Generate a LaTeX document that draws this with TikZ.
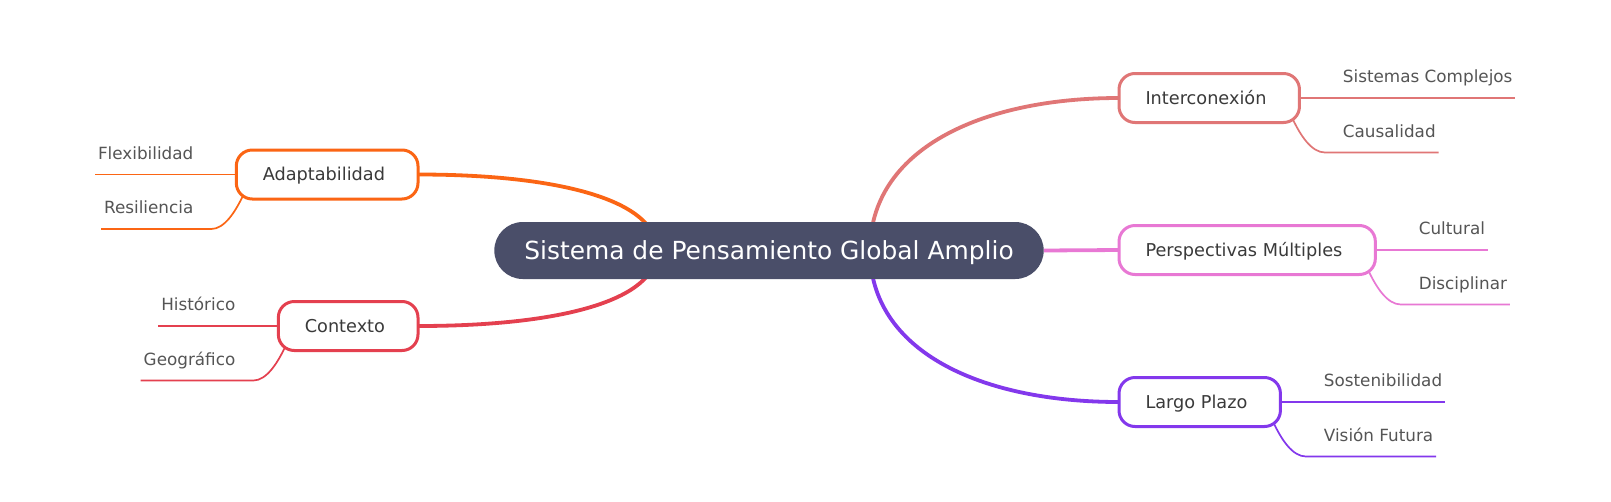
\documentclass[tikz,border=0pt]{standalone}
\usepackage{fontspec}
\setmainfont{DejaVu Sans}
\usetikzlibrary{calc,backgrounds}
\definecolor{rootc}{HTML}{4A4E69}
\definecolor{cInt}{HTML}{E07676}
\definecolor{cPer}{HTML}{E878D4}
\definecolor{cLar}{HTML}{8338EC}
\definecolor{cAda}{HTML}{FB6514}
\definecolor{cCon}{HTML}{E4404F}
\definecolor{txtc}{HTML}{3A3A3A}
\definecolor{leaftxt}{HTML}{555555}
\begin{document}
\begin{tikzpicture}[x=1pt,y=-1pt,
  rootbox/.style={fill=rootc, text=white, rounded corners=28.5pt, minimum height=57pt,
    inner xsep=30pt, inner ysep=0pt, outer sep=0pt, text height=20.3pt, text depth=2.1pt,
    font=\fontsize{24.9}{30}\selectfont},
  childbox/.style={draw=#1, line width=3pt, fill=white, text=txtc, rounded corners=16pt,
    minimum height=49pt, inner xsep=26.5pt, inner ysep=0pt, outer sep=0pt,
    text height=15pt, text depth=2.1pt, font=\fontsize{17.7}{21}\selectfont},
  leaf/.style={text=leaftxt, inner sep=0pt, outer sep=0pt, font=\fontsize{16.8}{20}\selectfont},
  mainlink/.style={draw=#1, line width=3.8pt},
  leaflink/.style={draw=#1, line width=1.7pt},
]
\useasboundingbox (0,0) rectangle (1611,501);

% root
\node[rootbox] (root) at (769,250.5) {Sistema de Pensamiento Global Amplio};
\coordinate (rR) at (870,250.5);
\coordinate (rL) at (657,250.5);

% children
\node[childbox=cInt, anchor=west] (int) at (1119,98) {Interconexión\hspace*{6.5pt}};
\node[childbox=cPer, anchor=west] (per) at (1119,250) {Perspectivas Múltiples\hspace*{6.5pt}};
\node[childbox=cLar, anchor=west] (lar) at (1119,402) {Largo Plazo\hspace*{6.5pt}};
\node[childbox=cAda, anchor=east] (ada) at (418,174.5) {Adaptabilidad\hspace*{6.5pt}};
\node[childbox=cCon, anchor=east] (con) at (418,326) {Contexto\hspace*{6.5pt}};

% leaves right
\node[leaf, anchor=base west] (int1) at ($(int.east)+(43.5,-15.3)$) {Sistemas Complejos};
\node[leaf, anchor=base west] (int2) at ($(int.east)+(43.5,39.2)$) {Causalidad};
\node[leaf, anchor=base west] (per1) at ($(per.east)+(43.5,-15.3)$) {Cultural};
\node[leaf, anchor=base west] (per2) at ($(per.east)+(43.5,39.2)$) {Disciplinar};
\node[leaf, anchor=base west] (lar1) at ($(lar.east)+(43.5,-15.3)$) {Sostenibilidad};
\node[leaf, anchor=base west] (lar2) at ($(lar.east)+(43.5,39.2)$) {Visión Futura};
% leaves left
\node[leaf, anchor=base east] (ada1) at ($(ada.west)+(-43,-15.3)$) {Flexibilidad};
\node[leaf, anchor=base east] (ada2) at ($(ada.west)+(-43,39.2)$) {Resiliencia};
\node[leaf, anchor=base east] (con1) at ($(con.west)+(-43,-15.3)$) {Histórico};
\node[leaf, anchor=base east] (con2) at ($(con.west)+(-43,39.2)$) {Geográfico};

\coordinate (intb) at ($(int.east)+(0,54.5)$);
\coordinate (perb) at ($(per.east)+(0,54.5)$);
\coordinate (larb) at ($(lar.east)+(0,54.5)$);
\coordinate (adab) at ($(ada.west)+(0,54.5)$);
\coordinate (conb) at ($(con.west)+(0,54.5)$);

\begin{pgfonlayer}{background}
\fill[white] (0,0) rectangle (1611,501);
% main links
\draw[mainlink=cInt] (rR) .. controls (870,150) and (980,98) .. (int.west);
\draw[mainlink=cPer] (root.east) -- (per.west);
\draw[mainlink=cLar] (rR) .. controls (870,351) and (980,402) .. (lar.west);
\draw[mainlink=cAda] (rL) .. controls (657,200.3) and (560,174.5) .. (ada.east);
\draw[mainlink=cCon] (rL) .. controls (657,300.7) and (560,326) .. (con.east);

% leaf links right
\draw[leaflink=cInt] (int.east) -- ($(int.east -| int1.east)+(3,0)$);
\draw[leaflink=cInt] ($(int.east)+(-7,20.5)$) .. controls ($(int.east)+(1,37.5)$) and ($(int.east)+(12,54.5)$) .. ($(int.east)+(25.5,54.5)$) -- ($(intb -| int2.east)+(3,0)$);
\draw[leaflink=cPer] (per.east) -- ($(per.east -| per1.east)+(3,0)$);
\draw[leaflink=cPer] ($(per.east)+(-7,20.5)$) .. controls ($(per.east)+(1,37.5)$) and ($(per.east)+(12,54.5)$) .. ($(per.east)+(25.5,54.5)$) -- ($(perb -| per2.east)+(3,0)$);
\draw[leaflink=cLar] (lar.east) -- ($(lar.east -| lar1.east)+(3,0)$);
\draw[leaflink=cLar] ($(lar.east)+(-7,20.5)$) .. controls ($(lar.east)+(1,37.5)$) and ($(lar.east)+(12,54.5)$) .. ($(lar.east)+(25.5,54.5)$) -- ($(larb -| lar2.east)+(3,0)$);
% leaf links left
\draw[leaflink=cAda] (ada.west) -- ($(ada.west -| ada1.west)+(-3,0)$);
\draw[leaflink=cAda] ($(ada.west)+(7,20.5)$) .. controls ($(ada.west)+(-1,37.5)$) and ($(ada.west)+(-12,54.5)$) .. ($(ada.west)+(-25,54.5)$) -- ($(adab -| ada2.west)+(-3,0)$);
\draw[leaflink=cCon] (con.west) -- ($(con.west -| con1.west)+(-3,0)$);
\draw[leaflink=cCon] ($(con.west)+(7,20.5)$) .. controls ($(con.west)+(-1,37.5)$) and ($(con.west)+(-12,54.5)$) .. ($(con.west)+(-25,54.5)$) -- ($(conb -| con2.west)+(-3,0)$);
\end{pgfonlayer}
\end{tikzpicture}
\end{document}
